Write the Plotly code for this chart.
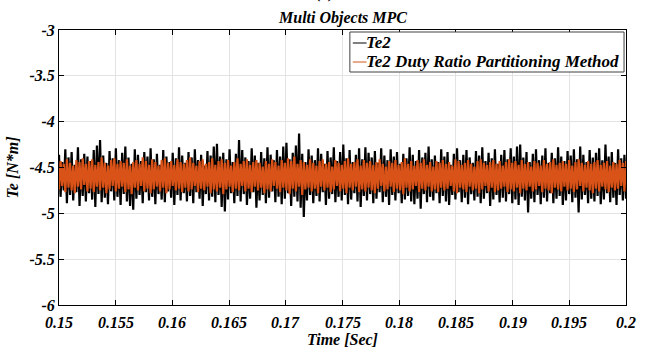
import numpy as np
import plotly.graph_objects as go

# ---- data ----
t_start, t_end = 0.15, 0.2

te2_hi = [
 -4.36, -4.44, -4.30, -4.39, -4.33, -4.47, -4.28, -4.41, -4.35, -4.38,
 -4.43, -4.31, -4.26, -4.20, -4.37, -4.45, -4.32, -4.40, -4.29, -4.42,
 -4.34, -4.27, -4.39, -4.46, -4.30, -4.36, -4.43, -4.33, -4.38, -4.29,
 -4.41, -4.35, -4.47, -4.31, -4.38, -4.44, -4.34, -4.40, -4.28, -4.37,
 -4.45, -4.33, -4.39, -4.30, -4.42, -4.36, -4.48, -4.32, -4.37, -4.27,
 -4.24, -4.38, -4.34, -4.41, -4.30, -4.44, -4.35, -4.20, -4.31, -4.39,
 -4.43, -4.29, -4.37, -4.45, -4.33, -4.40, -4.28, -4.36, -4.42, -4.31,
 -4.38, -4.27, -4.23, -4.41, -4.34, -4.26, -4.13, -4.35, -4.44, -4.30,
 -4.37, -4.42, -4.29, -4.35, -4.46, -4.32, -4.39, -4.28, -4.43, -4.33,
 -4.25, -4.40, -4.31, -4.44, -4.36, -4.29, -4.41, -4.28, -4.34, -4.39,
 -4.32, -4.45, -4.29, -4.37, -4.42, -4.30, -4.38, -4.33, -4.46, -4.35,
 -4.40, -4.28, -4.36, -4.43, -4.31, -4.39, -4.34, -4.27, -4.41, -4.37,
 -4.44, -4.30, -4.38, -4.33, -4.47, -4.35, -4.29, -4.42, -4.36, -4.31,
 -4.39, -4.45, -4.32, -4.37, -4.28, -4.43, -4.34, -4.40, -4.30, -4.46,
 -4.36, -4.31, -4.41, -4.29, -4.38, -4.27, -4.25, -4.39, -4.33, -4.44,
 -4.35, -4.30, -4.42, -4.37, -4.29, -4.45, -4.34, -4.40, -4.28, -4.38,
 -4.43, -4.32, -4.37, -4.30, -4.41, -4.27, -4.36, -4.44, -4.31, -4.39,
 -4.34, -4.29, -4.42, -4.25, -4.38, -4.33, -4.45, -4.30, -4.40, -4.36,
]
te2_lo = [
 -4.82, -4.75, -4.89, -4.80, -4.86, -4.77, -4.92, -4.81, -4.87, -4.78,
 -4.85, -4.93, -4.79, -4.88, -4.83, -4.90, -4.76, -4.86, -4.82, -4.91,
 -4.79, -4.87, -4.92, -4.96, -4.84, -4.80, -4.89, -4.77, -4.86, -4.82,
 -4.90, -4.79, -4.85, -4.88, -4.76, -4.83, -4.91, -4.80, -4.86, -4.78,
 -4.87, -4.81, -4.89, -4.77, -4.84, -4.92, -4.79, -4.86, -4.82, -4.88,
 -4.80, -4.93, -4.98, -4.85, -4.78, -4.89, -4.81, -4.87, -4.79, -4.91,
 -4.84, -4.77, -4.94, -4.86, -4.80, -4.89, -4.83, -4.76, -4.88, -4.82,
 -4.90, -4.84, -4.78, -4.92, -4.82, -4.87, -4.94, -5.04, -4.86, -4.80,
 -4.89, -4.81, -4.87, -4.77, -4.91, -4.84, -4.79, -4.88, -4.82, -4.86,
 -4.80, -4.90, -4.85, -4.78, -4.87, -4.93, -4.81, -4.86, -4.79, -4.89,
 -4.84, -4.77, -4.88, -4.82, -4.91, -4.80, -4.86, -4.78, -4.89, -4.85,
 -4.81, -4.87, -4.90, -4.84, -4.95, -4.79, -4.88, -4.82, -4.86, -4.78,
 -4.89, -4.81, -4.87, -4.91, -4.80, -4.85, -4.77, -4.88, -4.83, -4.90,
 -4.79, -4.86, -4.82, -4.89, -4.84, -4.78, -4.92, -4.85, -4.80, -4.88,
 -4.83, -4.87, -4.79, -4.89, -4.85, -4.91, -4.82, -4.86, -4.99, -4.84,
 -4.88, -4.80, -4.90, -4.83, -4.87, -4.78, -4.89, -4.84, -4.81, -4.91,
 -4.86, -4.79, -4.88, -4.83, -4.99, -4.85, -4.80, -4.89, -4.84, -4.87,
 -4.81, -4.90, -4.85, -4.78, -4.88, -4.83, -4.91, -4.80, -4.86, -4.84,
]
dr_hi = [
 -4.43, -4.46, -4.41, -4.45, -4.48, -4.42, -4.44, -4.40, -4.46, -4.43,
 -4.41, -4.47, -4.44, -4.39, -4.45, -4.48, -4.42, -4.40, -4.46, -4.43,
 -4.45, -4.41, -4.48, -4.44, -4.42, -4.46, -4.39, -4.43, -4.47, -4.41,
 -4.44, -4.48, -4.42, -4.40, -4.45, -4.43, -4.47, -4.41, -4.44, -4.46,
 -4.42, -4.39, -4.45, -4.48, -4.43, -4.41, -4.46, -4.44, -4.40, -4.47,
 -4.43, -4.41, -4.45, -4.42, -4.48, -4.44, -4.40, -4.46, -4.43, -4.41,
 -4.47, -4.44, -4.42, -4.45, -4.49, -4.43, -4.46, -4.41, -4.44, -4.48,
 -4.42, -4.45, -4.40, -4.43, -4.38, -4.46, -4.42, -4.44, -4.47, -4.41,
 -4.45, -4.48, -4.43, -4.41, -4.46, -4.44, -4.49, -4.42, -4.45, -4.47,
 -4.43, -4.40, -4.46, -4.44, -4.41, -4.48, -4.42, -4.45, -4.43, -4.47,
 -4.44, -4.41, -4.46, -4.49, -4.43, -4.45, -4.42, -4.47, -4.44, -4.40,
 -4.46, -4.43, -4.48, -4.42, -4.45, -4.41, -4.47, -4.44, -4.49, -4.43,
 -4.45, -4.42, -4.46, -4.44, -4.48, -4.41, -4.43, -4.47, -4.45, -4.42,
 -4.46, -4.49, -4.43, -4.41, -4.45, -4.47, -4.44, -4.42, -4.46, -4.43,
 -4.48, -4.44, -4.41, -4.45, -4.43, -4.47, -4.42, -4.46, -4.44, -4.49,
 -4.43, -4.45, -4.48, -4.42, -4.46, -4.44, -4.41, -4.47, -4.45, -4.43,
 -4.46, -4.42, -4.48, -4.44, -4.41, -4.45, -4.47, -4.43, -4.46, -4.44,
 -4.42, -4.47, -4.45, -4.43, -4.48, -4.44, -4.46, -4.42, -4.45, -4.43,
]
dr_lo = [
 -4.74, -4.70, -4.77, -4.72, -4.75, -4.78, -4.71, -4.74, -4.69, -4.76,
 -4.73, -4.77, -4.71, -4.75, -4.72, -4.78, -4.74, -4.70, -4.76, -4.73,
 -4.71, -4.77, -4.74, -4.79, -4.72, -4.75, -4.70, -4.76, -4.73, -4.78,
 -4.74, -4.71, -4.76, -4.72, -4.78, -4.74, -4.70, -4.75, -4.73, -4.77,
 -4.72, -4.76, -4.74, -4.70, -4.77, -4.73, -4.75, -4.71, -4.78, -4.74,
 -4.76, -4.72, -4.79, -4.74, -4.71, -4.77, -4.73, -4.75, -4.70, -4.76,
 -4.73, -4.77, -4.71, -4.75, -4.72, -4.78, -4.74, -4.76, -4.70, -4.73,
 -4.77, -4.72, -4.75, -4.79, -4.73, -4.76, -4.71, -4.80, -4.74, -4.72,
 -4.76, -4.73, -4.78, -4.71, -4.75, -4.72, -4.77, -4.74, -4.70, -4.76,
 -4.73, -4.78, -4.72, -4.75, -4.71, -4.77, -4.74, -4.76, -4.72, -4.75,
 -4.78, -4.73, -4.70, -4.76, -4.74, -4.71, -4.77, -4.73, -4.75, -4.79,
 -4.72, -4.76, -4.74, -4.70, -4.77, -4.73, -4.75, -4.71, -4.76, -4.74,
 -4.77, -4.72, -4.75, -4.73, -4.70, -4.76, -4.78, -4.72, -4.74, -4.77,
 -4.71, -4.75, -4.73, -4.78, -4.74, -4.70, -4.76, -4.72, -4.77, -4.75,
 -4.73, -4.71, -4.77, -4.74, -4.76, -4.72, -4.78, -4.73, -4.75, -4.71,
 -4.76, -4.74, -4.70, -4.77, -4.73, -4.75, -4.78, -4.72, -4.74, -4.76,
 -4.71, -4.75, -4.73, -4.77, -4.74, -4.70, -4.76, -4.72, -4.75, -4.78,
 -4.73, -4.76, -4.71, -4.74, -4.77, -4.72, -4.75, -4.73, -4.70, -4.76,
]

x_ticks = [0.15, 0.155, 0.16, 0.165, 0.17, 0.175, 0.18, 0.185, 0.19, 0.195, 0.2]
x_tick_labels = ["0.15", "0.155", "0.16", "0.165", "0.17", "0.175", "0.18", "0.185", "0.19", "0.195", "0.2"]
y_ticks = [-6, -5.5, -5, -4.5, -4, -3.5, -3]
y_tick_labels = ["-6", "-5.5", "-5", "-4.5", "-4", "-3.5", "-3"]
series_names = ["Te2", "Te2 Duty Ratio Partitioning Method"]
series_colors = ["black", "#D95319"]

# interleave peaks/troughs into sampled signals
te2 = [v for pair in zip(te2_hi, te2_lo) for v in pair]
dr = [v for pair in zip(dr_lo, dr_hi) for v in pair]
t_te2 = np.linspace(t_start, t_end, len(te2))
t_dr = np.linspace(t_start, t_end, len(dr))

FONT = '"Liberation Serif", "Times New Roman", Times, serif'
bi = dict(family=FONT, color="black", weight="bold", style="italic")

fig = go.Figure()
fig.add_trace(go.Scatter(x=t_te2, y=te2, mode="lines", name=series_names[0],
                         line=dict(color=series_colors[0], width=2.2)))
fig.add_trace(go.Scatter(x=t_dr, y=dr, mode="lines", name=series_names[1],
                         line=dict(color=series_colors[1], width=2.2)))

# plot area in pixels: x 49..626, y 30..305
def px_x(p):
    return (p - 49) / 577.0

def px_y(p):
    return 1 - (p - 30) / 275.0

shapes = [
    dict(type="rect", xref="paper", yref="paper",
         x0=px_x(345), x1=px_x(624), y0=px_y(72), y1=px_y(32),
         line=dict(color="#404040", width=1), fillcolor="white", layer="above"),
]
annotations = [
    dict(text="Multi Objects MPC", x=0.5, y=1.0, xref="paper", yref="paper",
         xanchor="center", yanchor="bottom", yshift=1, showarrow=False,
         font=dict(size=16, **bi)),
    dict(text="(b)", x=0.47, y=1.0, xref="paper", yref="paper",
         xanchor="center", yanchor="bottom", yshift=26, showarrow=False,
         font=dict(size=16, **bi)),
    dict(text="Time [Sec]", x=0.5, y=0.0, xref="paper", yref="paper",
         xanchor="center", yanchor="top", yshift=-24, showarrow=False,
         font=dict(size=16, **bi)),
]
# x tick labels placed at the tick values, a bit lower than plotly's default
for tv, tl in zip(x_ticks, x_tick_labels):
    annotations.append(dict(text=tl, x=tv, y=0.0, xref="x", yref="paper",
                            xanchor="center", yanchor="top", yshift=-7,
                            showarrow=False, font=dict(size=16, **bi)))
for i, (nm, col) in enumerate(zip(series_names, series_colors)):
    yy = px_y(43 + 19 * i)
    shapes.append(dict(type="line", xref="paper", yref="paper",
                       x0=px_x(348), x1=px_x(362), y0=yy, y1=yy,
                       line=dict(color=col, width=1), layer="above"))
    annotations.append(dict(text=nm, x=px_x(359), y=yy, xref="paper", yref="paper",
                            xanchor="left", yanchor="middle", showarrow=False,
                            font=dict(size=17, **bi)))

fig.update_layout(
    width=651, height=349,
    margin=dict(l=49, r=25, t=30, b=44),
    paper_bgcolor="white", plot_bgcolor="white",
    font=dict(family=FONT, color="black"),
    showlegend=False,
    shapes=shapes,
    annotations=annotations,
)

axis_font = dict(size=16, **bi)
fig.update_xaxes(range=[t_start, t_end], tickvals=x_ticks, ticktext=x_tick_labels,
                 showticklabels=False,
                 showgrid=True, gridcolor="#e3e3e3", gridwidth=1,
                 showline=True, linecolor="black", linewidth=1, mirror="allticks",
                 ticks="inside", ticklen=5, tickcolor="black",
                 zeroline=False)
fig.update_yaxes(range=[-6, -3], tickvals=y_ticks, ticktext=y_tick_labels,
                 showgrid=True, gridcolor="#e3e3e3", gridwidth=1,
                 showline=True, linecolor="black", linewidth=1, mirror="allticks",
                 ticks="inside", ticklen=5, tickcolor="black",
                 tickfont=axis_font, zeroline=False,
                 title=dict(text="Te [N*m]", font=axis_font, standoff=6))

fig.write_html("out.html")
